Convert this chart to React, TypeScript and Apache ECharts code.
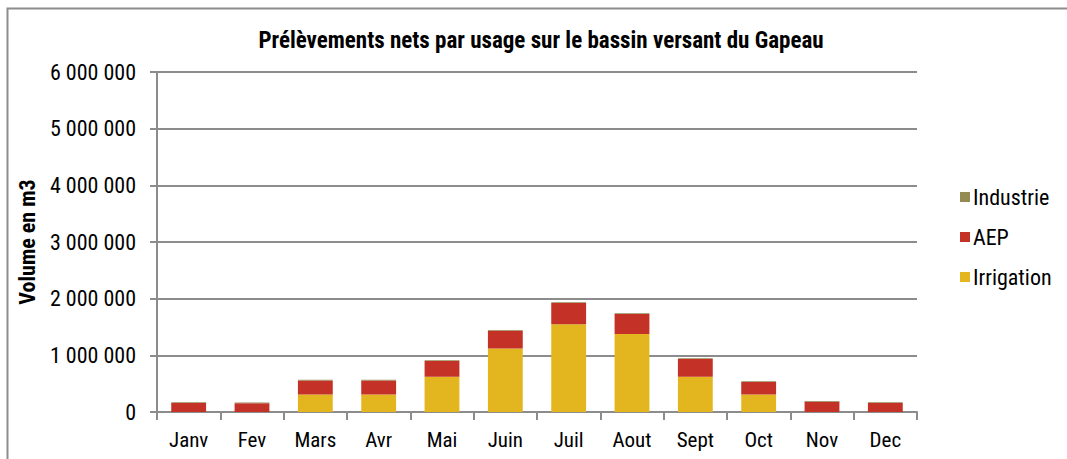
import React, { useEffect, useRef } from "react";
import * as echarts from "echarts";

const months = ["Janv", "Fev", "Mars", "Avr", "Mai", "Juin", "Juil", "Aout", "Sept", "Oct", "Nov", "Dec"];
const irrigation = [0, 0, 310000, 310000, 620000, 1120000, 1550000, 1375000, 620000, 310000, 0, 0];
const aep = [160000, 155000, 245000, 245000, 280000, 315000, 375000, 355000, 315000, 220000, 180000, 160000];
const industrie = [12000, 12000, 12000, 12000, 12000, 12000, 12000, 12000, 12000, 12000, 12000, 12000];
const yTicks = [0, 1000000, 2000000, 3000000, 4000000, 5000000, 6000000];

const FONT = "'Roboto Condensed', 'Liberation Sans', Arial, sans-serif";

function fmt(v: number): string {
  return String(v).replace(/\B(?=(\d{3})+(?!\d))/g, " ");
}

export default function App() {
  const ref = useRef<HTMLDivElement>(null);
  useEffect(() => {
    if (!ref.current) return;
    const chart = echarts.init(ref.current, undefined, { renderer: "svg" });
    chart.setOption({
      animation: false,
      backgroundColor: "#ffffff",
      title: {
        text: "Prélèvements nets par usage sur le bassin versant du Gapeau",
        left: 536,
        textAlign: "center",
        top: 24,
        textStyle: { fontFamily: FONT, fontSize: 23, fontWeight: "bold", color: "#000" },
      },
      graphic: [
        {
          type: "rect",
          shape: { x: 7.5, y: 8.5, width: 1100, height: 500 },
          style: { fill: "none", stroke: "#8c8c8c", lineWidth: 2 },
          silent: true,
        },
      ],
      legend: {
        orient: "vertical",
        left: 955,
        top: 181,
        itemWidth: 10,
        itemHeight: 10,
        itemGap: 18,
        icon: "rect",
        data: ["Industrie", "AEP", "Irrigation"],
        textStyle: { fontFamily: FONT, fontSize: 22, color: "#000", padding: [0, 0, 0, -2] },
      },
      grid: { left: 157, right: 150, top: 72, bottom: 47, containLabel: false },
      xAxis: {
        type: "category",
        data: months,
        axisLine: { lineStyle: { color: "#8c8c8c", width: 2 } },
        axisTick: { show: true, alignWithLabel: false, length: 8, lineStyle: { color: "#8c8c8c", width: 2 } },
        axisLabel: { fontFamily: FONT, fontSize: 21, color: "#000", margin: 17 },
      },
      yAxis: {
        type: "value",
        min: 0,
        max: 6000000,
        interval: 1000000,
        name: "Volume en m3",
        nameLocation: "middle",
        nameGap: 116,
        nameRotate: 90,
        nameTextStyle: { fontFamily: FONT, fontSize: 22, fontWeight: "bold", color: "#000" },
        axisLine: { show: true, lineStyle: { color: "#8c8c8c", width: 2 } },
        axisTick: { show: true, length: 7, lineStyle: { color: "#8c8c8c", width: 2 } },
        splitLine: { show: true, lineStyle: { color: "#8c8c8c", width: 2 } },
        axisLabel: {
          fontFamily: FONT,
          fontSize: 22,
          color: "#000",
          margin: 21,
          formatter: (v: number) => (yTicks.includes(v) ? fmt(v) : ""),
        },
      },
      series: [
        {
          name: "Irrigation",
          type: "bar",
          stack: "total",
          data: irrigation,
          barWidth: "55%",
          itemStyle: { color: "#E3B620" },
        },
        {
          name: "AEP",
          type: "bar",
          stack: "total",
          data: aep,
          barWidth: "55%",
          itemStyle: { color: "#C33127" },
        },
        {
          name: "Industrie",
          type: "bar",
          stack: "total",
          data: industrie,
          barWidth: "55%",
          itemStyle: { color: "#948A54" },
        },
      ],
    });
    return () => chart.dispose();
  }, []);
  return (
    <div
      ref={ref}
      style={{ position: "fixed", left: 0, top: 0, width: 1067, height: 459 }}
    />
  );
}
